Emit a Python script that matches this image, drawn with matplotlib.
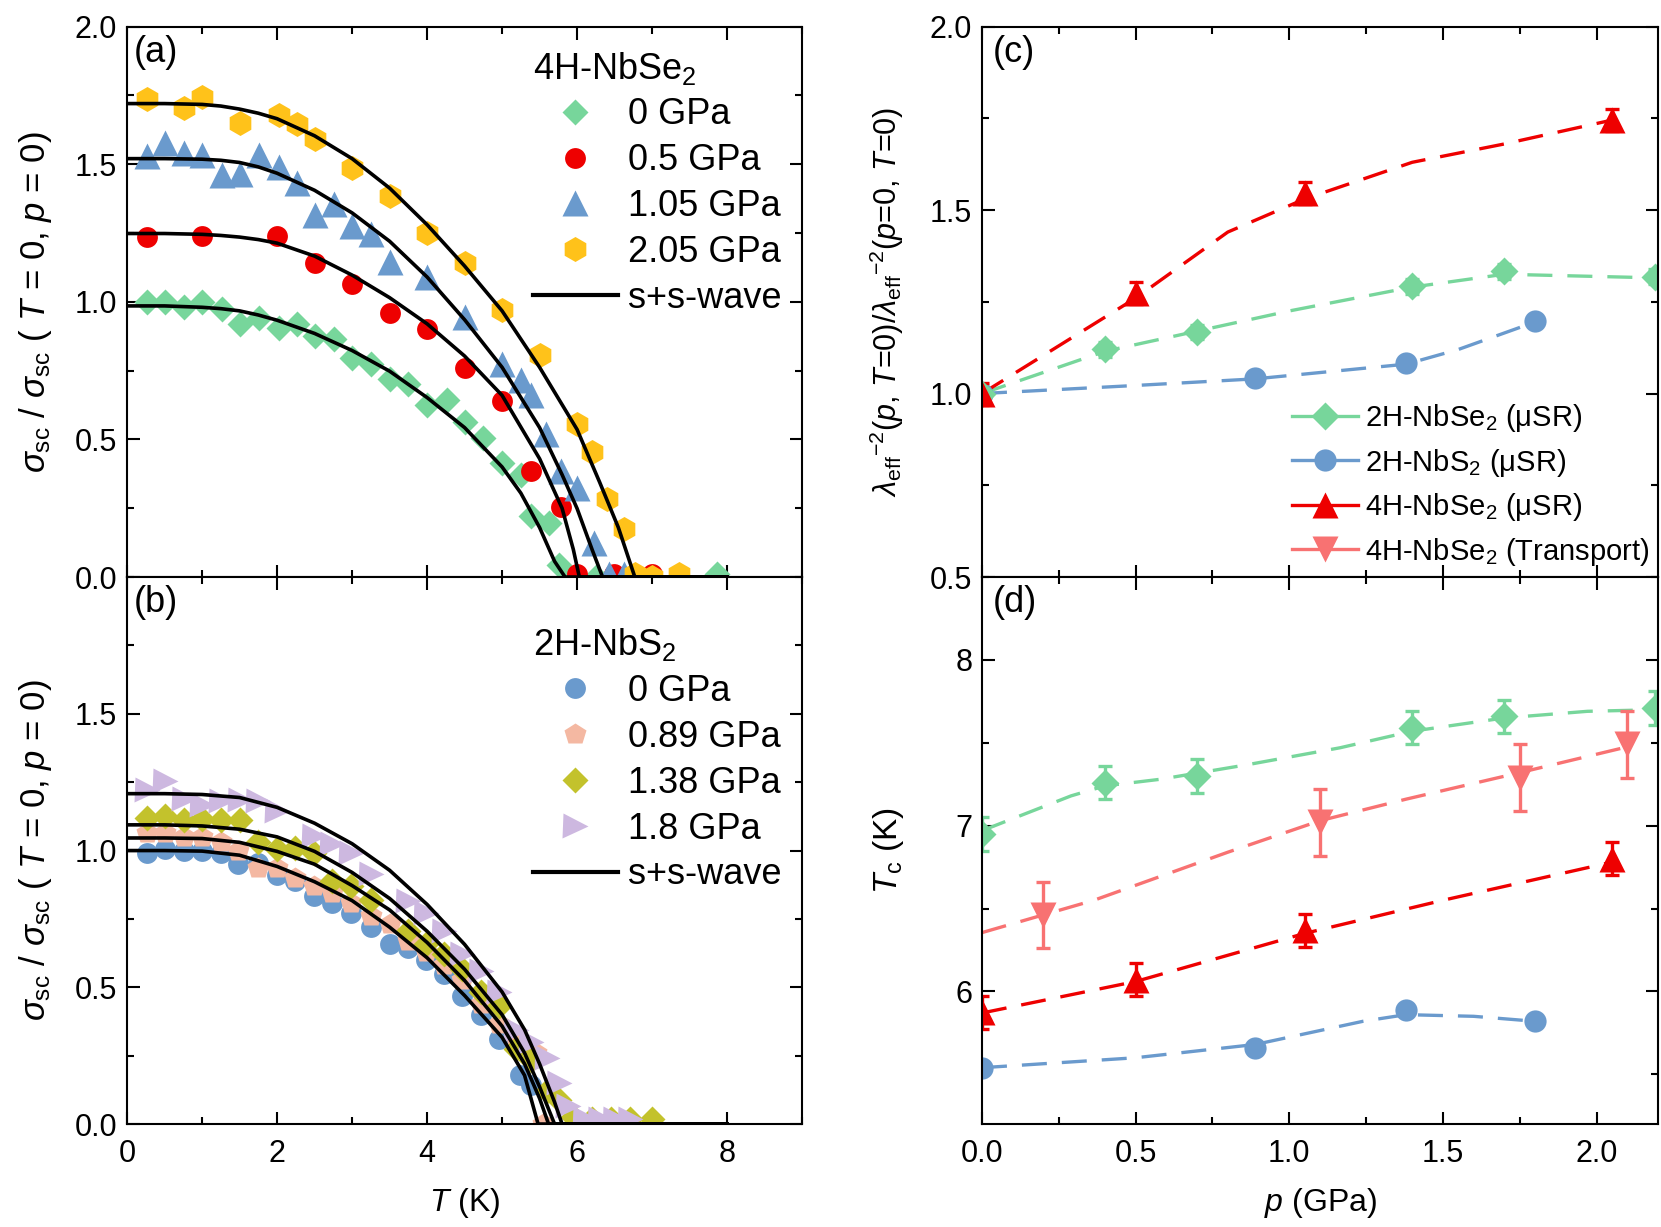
import matplotlib
matplotlib.use("Agg")
import matplotlib.pyplot as plt
from matplotlib.lines import Line2D
from matplotlib.ticker import MultipleLocator

plt.rcParams['font.family'] = ['Liberation Sans', 'DejaVu Sans']
plt.rcParams['mathtext.fontset'] = 'custom'
plt.rcParams['mathtext.rm'] = 'Liberation Sans'
plt.rcParams['mathtext.it'] = 'Liberation Sans:italic'
plt.rcParams['mathtext.bf'] = 'Liberation Sans:bold'

# ---- panel (a): 4H-NbSe2 superfluid density ----
T_a0 = [0.26, 0.5, 0.76, 1.0, 1.26, 1.51, 1.76, 2.02, 2.26, 2.5, 2.76, 3.0, 3.25, 3.51, 3.75, 4.0,
        4.26, 4.5, 4.75, 5.0, 5.25, 5.39, 5.63, 5.76, 5.88, 6.0, 6.25, 7.87]
s_a0 = [1.0, 1.0, 0.98, 1.0, 0.975, 0.92, 0.94, 0.905, 0.92, 0.875, 0.865, 0.795, 0.775, 0.72, 0.70, 0.625,
        0.645, 0.565, 0.505, 0.415, 0.37, 0.22, 0.195, 0.045, 0.0, 0.0, 0.0, 0.01]
T_a1 = [0.26, 1.0, 2.0, 2.5, 3.0, 3.51, 4.0, 4.5, 5.0, 5.39, 5.79, 6.0, 6.49, 7.0]
s_a1 = [1.235, 1.24, 1.24, 1.14, 1.065, 0.96, 0.90, 0.76, 0.64, 0.385, 0.255, 0.01, 0.01, 0.01]
T_a2 = [0.26, 0.5, 0.76, 1.0, 1.26, 1.51, 1.76, 2.02, 2.26, 2.5, 2.76, 3.0, 3.25, 3.51, 4.0, 4.5, 5.0,
        5.25, 5.39, 5.58, 5.79, 6.0, 6.22, 6.42, 6.62]
s_a2 = [1.53, 1.575, 1.54, 1.535, 1.46, 1.465, 1.535, 1.49, 1.43, 1.315, 1.355, 1.275, 1.245, 1.145, 1.09,
        0.945, 0.775, 0.715, 0.66, 0.52, 0.385, 0.325, 0.125, 0.01, 0.01]
T_a3 = [0.26, 0.76, 1.0, 1.51, 2.02, 2.26, 2.5, 3.0, 3.51, 4.0, 4.5, 5.0, 5.5, 6.0, 6.2, 6.4, 6.62, 6.77,
        7.0, 7.36]
s_a3 = [1.735, 1.705, 1.745, 1.65, 1.68, 1.645, 1.59, 1.485, 1.385, 1.25, 1.14, 0.97, 0.805, 0.555, 0.455,
        0.285, 0.175, 0.01, 0.0, 0.01]

# s+s-wave fit curves
fitT_a0 = [0, 0.5, 1.0, 1.25, 1.5, 1.75, 2.0, 2.5, 3.0, 3.5, 4.0, 4.5, 5.0, 5.25, 5.5, 5.7, 5.84, 8.0]
fit_a0 = [0.985, 0.985, 0.98, 0.975, 0.967, 0.952, 0.933, 0.885, 0.823, 0.748, 0.652, 0.543, 0.40, 0.305,
          0.18, 0.057, 0.0, 0.0]
fitT_a1 = [0, 0.5, 1.0, 1.25, 1.5, 1.75, 2.0, 2.5, 3.0, 3.5, 4.0, 4.5, 5.0, 5.5, 5.8, 5.95, 6.03, 8.0]
fit_a1 = [1.248, 1.248, 1.245, 1.241, 1.235, 1.226, 1.213, 1.166, 1.097, 1.015, 0.92, 0.803, 0.66, 0.43,
          0.25, 0.1, 0.0, 0.0]
fitT_a2 = [0, 0.5, 1.0, 1.25, 1.5, 1.75, 2.0, 2.5, 3.0, 3.5, 4.0, 4.5, 5.0, 5.5, 5.8, 6.0, 6.2, 6.34, 8.0]
fit_a2 = [1.52, 1.52, 1.518, 1.514, 1.506, 1.49, 1.467, 1.405, 1.323, 1.22, 1.09, 0.935, 0.762, 0.543,
          0.372, 0.249, 0.1, 0.0, 0.0]
fitT_a3 = [0, 0.5, 1.0, 1.25, 1.5, 1.75, 2.0, 2.5, 3.0, 3.5, 4.0, 4.5, 5.0, 5.5, 6.0, 6.3, 6.55, 6.77, 8.0]
fit_a3 = [1.72, 1.72, 1.717, 1.711, 1.70, 1.685, 1.665, 1.603, 1.52, 1.413, 1.28, 1.13, 0.967, 0.762,
          0.536, 0.345, 0.18, 0.0, 0.0]

# ---- panel (b): 2H-NbS2 superfluid density ----
T_b0 = [0.26, 0.5, 0.76, 1.0, 1.25, 1.48, 1.75, 2.0, 2.24, 2.49, 2.73, 2.98, 3.25, 3.5, 3.74, 3.99, 4.23,
        4.47, 4.72, 4.96, 5.24, 5.39]
s_b0 = [0.99, 1.004, 1.0, 0.997, 0.99, 0.95, 0.955, 0.91, 0.89, 0.835, 0.81, 0.77, 0.72, 0.657, 0.643, 0.60,
        0.55, 0.47, 0.40, 0.31, 0.178, 0.143]
T_b1 = [0.26, 0.5, 0.76, 1.0, 1.25, 1.48, 1.75, 2.0, 2.24, 2.49, 2.73, 2.98, 3.25, 3.5, 3.74, 3.99, 4.23,
        4.47, 4.72, 4.96, 5.2, 5.45, 5.55]
s_b1 = [1.065, 1.065, 1.05, 1.05, 1.03, 1.0, 0.935, 0.935, 0.90, 0.87, 0.845, 0.81, 0.76, 0.733, 0.67, 0.63,
        0.58, 0.525, 0.44, 0.365, 0.30, 0.26, 0.0]
T_b2 = [0.26, 0.5, 0.76, 1.0, 1.25, 1.51, 1.75, 2.0, 2.24, 2.49, 2.73, 2.98, 3.25, 3.74, 3.99, 4.23, 4.47,
        4.72, 4.96, 5.18, 5.39, 5.6, 5.76, 5.94, 6.2, 6.45, 6.7, 7.0]
s_b2 = [1.12, 1.125, 1.11, 1.115, 1.11, 1.11, 1.03, 1.004, 1.01, 0.99, 0.89, 0.87, 0.82, 0.705, 0.657, 0.62,
        0.566, 0.483, 0.43, 0.275, 0.233, 0.122, 0.087, 0.025, 0.02, 0.02, 0.02, 0.02]
T_b3 = [0.26, 0.5, 0.76, 1.0, 1.25, 1.51, 1.75, 2.0, 2.49, 2.73, 2.98, 3.25, 3.74, 3.99, 4.23, 4.47, 4.72,
        4.96, 5.18, 5.39, 5.6, 5.76, 5.88, 6.1, 6.3, 6.5, 6.7]
s_b3 = [1.22, 1.255, 1.19, 1.165, 1.18, 1.185, 1.18, 1.145, 1.055, 1.025, 0.99, 0.915, 0.817, 0.77, 0.705,
        0.62, 0.56, 0.483, 0.345, 0.30, 0.24, 0.15, 0.067, 0.02, 0.02, 0.02, 0.02]

fitT_b0 = [0, 0.5, 1.0, 1.5, 2.0, 2.5, 3.0, 3.5, 4.0, 4.5, 5.0, 5.3, 5.48, 8.0]
fit_b0 = [1.0, 1.0, 0.998, 0.983, 0.942, 0.886, 0.817, 0.72, 0.608, 0.47, 0.317, 0.178, 0.0, 0.0]
fitT_b1 = [0, 0.5, 1.0, 1.5, 2.0, 2.5, 3.0, 3.5, 4.0, 4.5, 5.0, 5.3, 5.5, 5.62, 8.0]
fit_b1 = [1.046, 1.046, 1.044, 1.03, 0.997, 0.95, 0.872, 0.783, 0.664, 0.525, 0.358, 0.22, 0.094, 0.0, 0.0]
fitT_b2 = [0, 0.5, 1.0, 1.5, 2.0, 2.5, 3.0, 3.5, 4.0, 4.5, 5.0, 5.3, 5.5, 5.7, 8.0]
fit_b2 = [1.094, 1.094, 1.09, 1.078, 1.05, 0.997, 0.92, 0.825, 0.705, 0.566, 0.40, 0.26, 0.136, 0.0, 0.0]
fitT_b3 = [0, 0.5, 1.0, 1.5, 2.0, 2.5, 3.0, 3.5, 4.0, 4.5, 5.0, 5.3, 5.5, 5.7, 5.8, 8.0]
fit_b3 = [1.208, 1.208, 1.205, 1.194, 1.158, 1.10, 1.025, 0.928, 0.803, 0.657, 0.483, 0.345, 0.22, 0.08, 0.0,
          0.0]

# ---- panels (c), (d): pressure dependence ----
p_2HSe = [0.0, 0.40, 0.70, 1.40, 1.70, 2.19]
lam_2HSe = [1.0, 1.12, 1.168, 1.292, 1.333, 1.318]
lam_2HSe_err = [0.02, 0.02, 0.02, 0.02, 0.02, 0.02]
Tc_2HSe = [6.95, 7.26, 7.30, 7.59, 7.66, 7.71]
Tc_2HSe_err = [0.1, 0.1, 0.1, 0.1, 0.1, 0.1]

p_2HS = [0.0, 0.889, 1.38, 1.80]
lam_2HS = [1.0, 1.043, 1.084, 1.197]
Tc_2HS = [5.54, 5.66, 5.89, 5.82]

p_4H = [0.0, 0.5, 1.05, 2.05]
lam_4H = [1.0, 1.274, 1.546, 1.746]
lam_4H_err = [0.03, 0.03, 0.03, 0.03]
Tc_4H = [5.875, 6.07, 6.37, 6.80]
Tc_4H_err = [0.1, 0.1, 0.1, 0.1]

p_tr = [0.2, 1.1, 1.75, 2.1]
Tc_tr = [6.46, 7.02, 7.29, 7.49]
Tc_tr_err = [0.2, 0.2, 0.2, 0.2]

# dashed guides to the eye
gp_lam_4H = [0, 0.25, 0.5, 0.8, 1.05, 1.4, 1.7, 2.05]
g_lam_4H = [1.0, 1.13, 1.26, 1.44, 1.53, 1.63, 1.68, 1.745]
gp_lam_2HSe = [0, 0.4, 0.7, 1.0, 1.4, 1.7, 2.2]
g_lam_2HSe = [1.0, 1.115, 1.17, 1.225, 1.29, 1.325, 1.315]
gp_lam_2HS = [0, 0.5, 0.889, 1.38, 1.55, 1.8]
g_lam_2HS = [1.0, 1.022, 1.04, 1.08, 1.12, 1.195]

gp_Tc_2HSe = [0, 0.29, 0.4, 0.58, 0.87, 1.165, 1.4, 1.7, 1.97, 2.2]
g_Tc_2HSe = [6.97, 7.18, 7.24, 7.28, 7.37, 7.47, 7.57, 7.65, 7.69, 7.70]
gp_Tc_tr = [0, 0.364, 0.8, 1.1, 1.38, 1.75, 2.11]
g_Tc_tr = [6.355, 6.55, 6.84, 7.03, 7.16, 7.32, 7.48]
gp_Tc_4H = [0, 0.5, 1.05, 1.5, 2.05]
g_Tc_4H = [5.87, 6.06, 6.35, 6.55, 6.78]
gp_Tc_2HS = [0, 0.5, 0.889, 1.24, 1.38, 1.6, 1.8]
g_Tc_2HS = [5.54, 5.60, 5.68, 5.82, 5.86, 5.85, 5.82]

GREEN = '#77D69B'
RED = '#EE0000'
BLUE = '#6A9ACD'
YELLOW = '#FFC21A'
SALMON = '#F4B8A2'
OLIVE = '#C3C22C'
LAVENDER = '#CDB8E0'
PINK = '#F87272'

FS_TICK = 22
FS_LAB = 23
FS_SIG = 25
FS_LEG = 26
FS_LEG_C = 21

fig = plt.figure(figsize=(16.61, 12.27), dpi=100)
ax_a = fig.add_axes([0.0765, 0.5297, 0.4064, 0.4487])
ax_b = fig.add_axes([0.0765, 0.0839, 0.4064, 0.4458])
ax_c = fig.add_axes([0.5912, 0.5297, 0.4070, 0.4487])
ax_d = fig.add_axes([0.5912, 0.0839, 0.4070, 0.4458])


def style(ax):
    ax.tick_params(which='both', direction='in', top=True, right=True, labelsize=FS_TICK, width=1.5)
    ax.tick_params(axis='y', pad=7)
    ax.tick_params(axis='x', pad=11)
    ax.tick_params(which='major', length=9)
    ax.tick_params(which='minor', length=5)
    for s in ax.spines.values():
        s.set_linewidth(1.5)


def fits(ax, Ts, ss):
    for T, s in zip(Ts, ss):
        ax.plot(T, s, '-', color='black', lw=2.6, zorder=5)


LEG_KW = dict(loc='upper left', frameon=False, fontsize=FS_LEG, title_fontsize=FS_LEG, alignment='left',
              handlelength=2.35, handletextpad=0.28, labelspacing=0.3, borderaxespad=0, borderpad=0,
              numpoints=1)
SIG_LABEL = r'$\sigma_{\rm sc}$ / $\sigma_{\rm sc}$ ( $T$ = 0, $p$ = 0)'

# panel (a)
ax_a.plot(T_a0, s_a0, 'D', ms=13, color=GREEN, mec='none', label='0 GPa')
ax_a.plot(T_a1, s_a1, 'o', ms=15, color=RED, mec='none', label='0.5 GPa')
ax_a.plot(T_a2, s_a2, '^', ms=19, color=BLUE, mec='none', label='1.05 GPa')
ax_a.plot(T_a3, s_a3, 'h', ms=18, color=YELLOW, mec='none', label='2.05 GPa')
fits(ax_a, [fitT_a0, fitT_a1, fitT_a2, fitT_a3], [fit_a0, fit_a1, fit_a2, fit_a3])
ax_a.plot([], [], '-', color='black', lw=3, label='s+s-wave')
ax_a.set_xlim(0, 9)
ax_a.set_ylim(0, 2.0)
ax_a.xaxis.set_major_locator(MultipleLocator(2))
ax_a.xaxis.set_minor_locator(MultipleLocator(1))
ax_a.yaxis.set_minor_locator(MultipleLocator(0.25))
ax_a.set_yticks([0, 0.5, 1.0, 1.5, 2.0])
ax_a.set_yticklabels(['0.0', '0.5', '1.0', '1.5', '2.0'])
ax_a.tick_params(labelbottom=False)
ax_a.set_ylabel(SIG_LABEL, fontsize=FS_SIG)
ax_a.yaxis.set_label_coords(-0.108, 0.5)
ax_a.text(0.01, 0.985, '(a)', transform=ax_a.transAxes, fontsize=FS_LEG, va='top', ha='left')
ax_a.legend(bbox_to_anchor=(0.601, 0.958), title='4H-NbSe$_2$', **LEG_KW)
style(ax_a)

# panel (b)
ax_b.plot(T_b0, s_b0, 'o', ms=15, color=BLUE, mec='none', label='0 GPa')
ax_b.plot(T_b1, s_b1, 'p', ms=16.5, color=SALMON, mec='none', label='0.89 GPa')
ax_b.plot(T_b2, s_b2, 'D', ms=13, color=OLIVE, mec='none', label='1.38 GPa')
ax_b.plot(T_b3, s_b3, '>', ms=18, color=LAVENDER, mec='none', label='1.8 GPa')
fits(ax_b, [fitT_b0, fitT_b1, fitT_b2, fitT_b3], [fit_b0, fit_b1, fit_b2, fit_b3])
ax_b.plot([], [], '-', color='black', lw=3, label='s+s-wave')
ax_b.set_xlim(0, 9)
ax_b.set_ylim(0, 2.0)
ax_b.xaxis.set_major_locator(MultipleLocator(2))
ax_b.xaxis.set_minor_locator(MultipleLocator(1))
ax_b.yaxis.set_minor_locator(MultipleLocator(0.25))
ax_b.set_yticks([0, 0.5, 1.0, 1.5])
ax_b.set_yticklabels(['0.0', '0.5', '1.0', '1.5'])
ax_b.set_xlabel(r'$T$ (K)', fontsize=FS_LAB, labelpad=12)
ax_b.set_ylabel(SIG_LABEL, fontsize=FS_SIG)
ax_b.yaxis.set_label_coords(-0.108, 0.5)
ax_b.text(0.01, 0.985, '(b)', transform=ax_b.transAxes, fontsize=FS_LEG, va='top', ha='left')
ax_b.legend(bbox_to_anchor=(0.601, 0.91), title='2H-NbS$_2$', **LEG_KW)
style(ax_b)

DASH = (7.5, 4.5)
LW = 2.4
EB = dict(capsize=5, elinewidth=2.4, capthick=2.4, mec='none', linestyle='none')

# panel (c)
ax_c.plot(gp_lam_2HSe, g_lam_2HSe, '--', color=GREEN, lw=LW, dashes=DASH)
ax_c.plot(gp_lam_2HS, g_lam_2HS, '--', color=BLUE, lw=LW, dashes=DASH)
ax_c.plot(gp_lam_4H, g_lam_4H, '--', color=RED, lw=LW, dashes=DASH)
ax_c.errorbar(p_2HSe, lam_2HSe, yerr=lam_2HSe_err, fmt='D', ms=14, color=GREEN, **EB)
ax_c.plot(p_2HS, lam_2HS, 'o', ms=16, color=BLUE, mec='none', linestyle='none')
ax_c.errorbar(p_4H, lam_4H, yerr=lam_4H_err, fmt='^', ms=19, color=RED, **EB)
ax_c.set_xlim(0, 2.2)
ax_c.set_ylim(0.5, 2.0)
ax_c.xaxis.set_major_locator(MultipleLocator(0.5))
ax_c.xaxis.set_minor_locator(MultipleLocator(0.25))
ax_c.yaxis.set_major_locator(MultipleLocator(0.5))
ax_c.yaxis.set_minor_locator(MultipleLocator(0.25))
ax_c.tick_params(labelbottom=False)
ax_c.set_ylabel(r'$\lambda_{\rm eff}$$^{-2}$($p$, $T$=0)/$\lambda_{\rm eff}$$^{-2}$($p$=0, $T$=0)',
                fontsize=FS_LAB - 1)
ax_c.yaxis.set_label_coords(-0.112, 0.5)
ax_c.text(0.016, 0.985, '(c)', transform=ax_c.transAxes, fontsize=FS_LEG, va='top', ha='left')
handles = [
    Line2D([], [], ls='-', lw=LW, color=GREEN, marker='D', ms=14, mec='none'),
    Line2D([], [], ls='-', lw=LW, color=BLUE, marker='o', ms=16, mec='none'),
    Line2D([], [], ls='-', lw=LW, color=RED, marker='^', ms=19, mec='none'),
    Line2D([], [], ls='-', lw=LW, color=PINK, marker='v', ms=19, mec='none'),
]
labels = ['2H-NbSe$_2$ (μSR)', '2H-NbS$_2$ (μSR)', '4H-NbSe$_2$ (μSR)', '4H-NbSe$_2$ (Transport)']
ax_c.legend(handles, labels, loc='upper left', bbox_to_anchor=(0.459, 0.318), frameon=False,
            fontsize=FS_LEG_C, handlelength=2.26, handletextpad=0.24, labelspacing=0.43, numpoints=1,
            borderaxespad=0, borderpad=0)
style(ax_c)

# panel (d)
ax_d.plot(gp_Tc_2HSe, g_Tc_2HSe, '--', color=GREEN, lw=LW, dashes=DASH)
ax_d.plot(gp_Tc_tr, g_Tc_tr, '--', color=PINK, lw=LW, dashes=DASH)
ax_d.plot(gp_Tc_4H, g_Tc_4H, '--', color=RED, lw=LW, dashes=DASH)
ax_d.plot(gp_Tc_2HS, g_Tc_2HS, '--', color=BLUE, lw=LW, dashes=DASH)
ax_d.errorbar(p_2HSe, Tc_2HSe, yerr=Tc_2HSe_err, fmt='D', ms=14, color=GREEN, **EB)
ax_d.errorbar(p_tr, Tc_tr, yerr=Tc_tr_err, fmt='v', ms=19, color=PINK, **EB)
ax_d.errorbar(p_4H, Tc_4H, yerr=Tc_4H_err, fmt='^', ms=19, color=RED, **EB)
ax_d.plot(p_2HS, Tc_2HS, 'o', ms=16, color=BLUE, mec='none', linestyle='none')
ax_d.set_xlim(0, 2.2)
ax_d.set_ylim(5.2, 8.5)
ax_d.xaxis.set_minor_locator(MultipleLocator(0.25))
ax_d.set_xticks([0, 0.5, 1.0, 1.5, 2.0])
ax_d.set_xticklabels(['0.0', '0.5', '1.0', '1.5', '2.0'])
ax_d.yaxis.set_major_locator(MultipleLocator(1))
ax_d.yaxis.set_minor_locator(MultipleLocator(0.5))
ax_d.set_xlabel(r'$p$ (GPa)', fontsize=FS_LAB, labelpad=12)
ax_d.set_ylabel(r'$T_{\rm c}$ (K)', fontsize=FS_LAB + 1)
ax_d.yaxis.set_label_coords(-0.112, 0.5)
ax_d.text(0.016, 0.985, '(d)', transform=ax_d.transAxes, fontsize=FS_LEG, va='top', ha='left')
style(ax_d)

fig.savefig('out.png', dpi=100)
